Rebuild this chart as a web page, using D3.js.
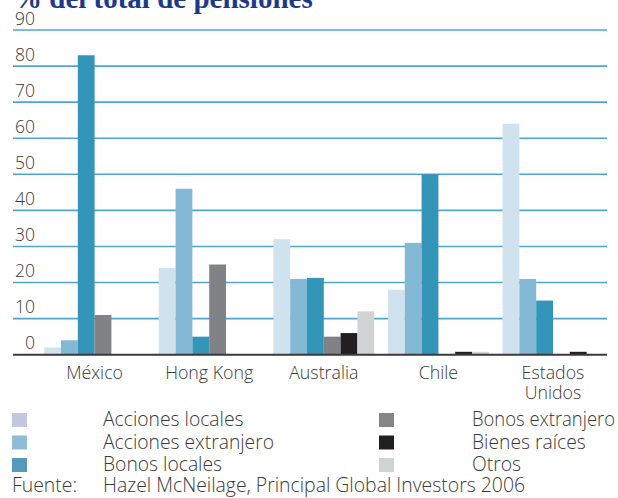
<!DOCTYPE html>
<html>
<head>
<meta charset="utf-8">
<script src="https://cdn.jsdelivr.net/npm/d3@7"></script>
<style>
  html, body { margin: 0; padding: 0; background: #fff; }
  svg { display: block; }
  text { font-family: "Open Sans", "Liberation Sans", sans-serif; font-weight: 300; fill: #3a3a3a; }
</style>
</head>
<body>
<svg id="chart" width="618" height="498"></svg>
<script>
// ---- data ----
const categories = ["México", "Hong Kong", "Australia", "Chile", "Estados Unidos"];
const seriesNames = ["Acciones locales", "Acciones extranjero", "Bonos locales", "Bonos extranjero", "Bienes raíces", "Otros"];
const accionesLocales     = [2, 24, 32, 18, 64];
const accionesExtranjero  = [4, 46, 21, 31, 21];
const bonosLocales        = [83, 5, 21.3, 50, 15];
const bonosExtranjero     = [11, 25, 5, 0, 0];
const bienesRaices        = [0, 0, 6, 0.8, 0.8];
const otros               = [0, 0, 12, 0.8, 0];
const yTicks = [0, 10, 20, 30, 40, 50, 60, 70, 80, 90];
const titleText = "% del total de pensiones";
const sourceLabel = "Fuente:";
const sourceText = "Hazel McNeilage, Principal Global Investors 2006";

const seriesValues = [accionesLocales, accionesExtranjero, bonosLocales, bonosExtranjero, bienesRaices, otros];
const barColors = ["#cfe2ee", "#84b9d5", "#3396b9", "#808285", "#231f20", "#d1d2d4"];
const legendColors = ["#c5c5de", "#90bcd5", "#5599bb", "#858589", "#231f20", "#d1d2d4"];

const svg = d3.select("#chart");

const y = d3.scaleLinear().domain([0, 90]).range([354.7, 30]);
const x0 = d3.scaleBand().domain(categories).range([37.3, 610.3]).paddingInner(0.12).paddingOuter(0.06);
const x1 = d3.scaleBand().domain(seriesNames).range([0, x0.bandwidth()]);

const gridLeft = 13, gridRight = 607;

// title (clipped at top)
svg.append("text")
  .attr("x", 13).attr("y", 8)
  .style("font-family", "'Liberation Serif', serif")
  .style("font-weight", "bold")
  .style("font-size", "29px")
  .style("fill", "#1d3a8a")
  .text(titleText);

// gridlines
svg.append("g").selectAll("line")
  .data(yTicks.filter(d => d > 0))
  .join("line")
  .attr("x1", gridLeft).attr("x2", gridRight)
  .attr("y1", d => y(d)).attr("y2", d => y(d))
  .attr("stroke", "#4fa6c9").attr("stroke-width", 1.6);

// tick labels
svg.append("g").selectAll("text")
  .data(yTicks)
  .join("text")
  .attr("x", 35).attr("y", d => y(d) - 5.5)
  .attr("text-anchor", "end")
  .style("font-size", "17.5px")
  .text(d => d);

// bars
const groups = svg.append("g").selectAll("g")
  .data(categories)
  .join("g")
  .attr("transform", d => `translate(${x0(d)},0)`);

groups.selectAll("rect")
  .data((c, i) => seriesNames.map((s, j) => ({ s, v: seriesValues[j][i], color: barColors[j] })))
  .join("rect")
  .attr("x", d => x1(d.s))
  .attr("width", x1.bandwidth())
  .attr("y", d => y(d.v))
  .attr("height", d => y(0) - y(d.v))
  .attr("fill", d => d.color);

// zero line
svg.append("line")
  .attr("x1", gridLeft).attr("x2", gridRight)
  .attr("y1", y(0)).attr("y2", y(0))
  .attr("stroke", "#3a3a3a").attr("stroke-width", 2);

// category labels
const catLabels = svg.append("g").selectAll("text")
  .data(categories)
  .join("text")
  .attr("x", d => x0(d) + x0.bandwidth() / 2)
  .attr("y", 379)
  .attr("text-anchor", "middle")
  .style("font-size", "17.8px");
catLabels.each(function(d) {
  const words = d === "Estados Unidos" ? ["Estados", "Unidos"] : [d];
  const t = d3.select(this);
  words.forEach((w, i) => {
    t.append("tspan")
      .attr("x", x0(d) + x0.bandwidth() / 2)
      .attr("dy", i === 0 ? 0 : 20)
      .text(w);
  });
});

// legend
const legend = svg.append("g");
seriesNames.forEach((s, i) => {
  const col = Math.floor(i / 3), row = i % 3;
  const sx = col === 0 ? 12 : 379;
  const tx = col === 0 ? 103 : 472;
  const top = 413 + row * 22.5;
  legend.append("rect")
    .attr("x", sx).attr("y", top)
    .attr("width", 15).attr("height", 14)
    .attr("fill", legendColors[i]);
  const t = legend.append("text")
    .attr("x", tx).attr("y", top + 13)
    .style("font-size", "19.3px")
    .text(s);
  const maxW = 615 - tx;
  if (t.node().getComputedTextLength() > maxW) {
    t.attr("textLength", maxW).attr("lengthAdjust", "spacingAndGlyphs");
  }
});

// source
svg.append("text").attr("x", 12).attr("y", 492).style("font-size", "19.4px").text(sourceLabel);
svg.append("text").attr("x", 103).attr("y", 492).style("font-size", "19.4px").text(sourceText);
</script>
</body>
</html>
